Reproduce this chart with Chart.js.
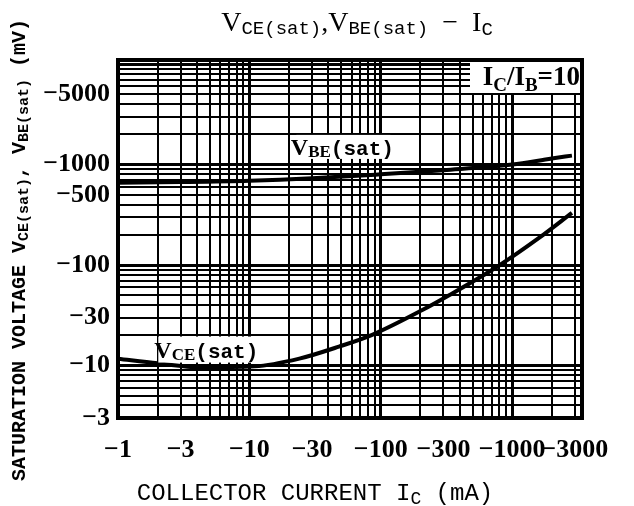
<!DOCTYPE html>
<html>
<head>
<meta charset="utf-8">
<script src="https://cdn.jsdelivr.net/npm/chart.js@4.4.0/dist/chart.umd.min.js"></script>
<style>
  body { margin: 0; background: #fff; }
  #wrap { width: 634px; height: 506px; }
</style>
</head>
<body>
<div id="wrap"><canvas id="satChart" width="634" height="506"></canvas></div>
<script>
// collector current (mA) and saturation voltages (mV)
const vceCurrent = [-1, -2, -4.2, -11, -24, -48, -86, -207, -331, -796, -1600, -2850];
const vceSat = [-11.7, -10.5, -9.6, -9.8, -11.7, -15.4, -20.2, -35.6, -50, -99, -186, -330];
const vbeCurrent = [-1, -3, -10, -30, -100, -300, -1000, -2000, -2850];
const vbeSat = [-660, -670, -690, -730, -800, -880, -1000, -1150, -1228];

// labelled ticks on each axis
const xTickLabels = [-1, -3, -10, -30, -100, -300, -1000, -3000];
const yTickLabels = [-3, -10, -30, -100, -500, -1000, -5000];

const X_MIN = 1, X_MAX = 3400, Y_MIN = 3, Y_MAX = 11000;

// log paper grid: 1..9 of every decade inside the range
function logGrid(min, max) {
  const out = [];
  for (let d = 1; d <= 10000; d *= 10) {
    for (let m = 1; m <= 9; m++) {
      const v = m * d;
      if (v >= min - 1e-9 && v <= max + 1e-9) out.push({ value: v });
    }
  }
  return out;
}
const isDecade = v => Math.abs(Math.log10(v) - Math.round(Math.log10(v))) < 1e-6;
const fmt = v => '\u2212' + v;

function rich(ctx, segs, x, y, align) {
  let w = 0;
  segs.forEach(s => { ctx.font = s.f; s.w = ctx.measureText(s.t).width; w += s.w; });
  let cx = align === 'center' ? x - w / 2 : align === 'right' ? x - w : x;
  ctx.textAlign = 'left';
  ctx.textBaseline = 'alphabetic';
  segs.forEach(s => { ctx.font = s.f; ctx.fillText(s.t, cx, y + (s.dy || 0)); cx += s.w; });
  return w;
}

const SERIF = '"Liberation Serif", serif';
const MONO = '"Liberation Mono", monospace';

const textPlugin = {
  id: 'texts',
  afterDatasetsDraw(chart) {
    const { ctx, scales: { x, y }, chartArea } = chart;
    ctx.save();
    ctx.fillStyle = '#000';

    // VBE(sat) label box
    let px = x.getPixelForValue(51), py = y.getPixelForValue(1500);
    ctx.fillStyle = '#fff';
    ctx.fillRect(px - 46, py - 12, 94, 24);
    ctx.fillStyle = '#000';
    rich(ctx, [
      { t: 'V', f: 'bold 24px ' + SERIF },
      { t: 'BE', f: 'bold 17px ' + SERIF, dy: 2 },
      { t: '(sat)', f: 'bold 21px ' + MONO }
    ], px, py + 8, 'center');

    // VCE(sat) label box
    px = x.getPixelForValue(4.7); py = y.getPixelForValue(14.4);
    ctx.fillStyle = '#fff';
    ctx.fillRect(px - 48, py - 13, 96, 26);
    ctx.fillStyle = '#000';
    rich(ctx, [
      { t: 'V', f: 'bold 24px ' + SERIF },
      { t: 'CE', f: 'bold 17px ' + SERIF, dy: 2 },
      { t: '(sat)', f: 'bold 21px ' + MONO }
    ], px, py + 8, 'center');

    // IC/IB = 10 box in the top right corner
    ctx.fillStyle = '#fff';
    ctx.fillRect(chartArea.right - 112, chartArea.top + 2, 110, 31);
    ctx.fillStyle = '#000';
    rich(ctx, [
      { t: 'I', f: 'bold 27px ' + SERIF },
      { t: 'C', f: 'bold 19px ' + SERIF, dy: 6 },
      { t: '/I', f: 'bold 27px ' + SERIF },
      { t: 'B', f: 'bold 19px ' + SERIF, dy: 6 },
      { t: '=10', f: 'bold 27px ' + SERIF }
    ], chartArea.right - 2, chartArea.top + 25, 'right');
    ctx.restore();
  },
  afterDraw(chart) {
    const { ctx, chartArea: a } = chart;
    ctx.save();
    ctx.strokeStyle = '#000';
    ctx.lineWidth = 4;
    ctx.strokeRect(a.left, a.top, a.right - a.left, a.bottom - a.top);

    ctx.fillStyle = '#000';
    // title
    rich(ctx, [
      { t: 'V', f: '28px ' + SERIF },
      { t: 'CE(sat)', f: '19px ' + MONO, dy: 3 },
      { t: ',V', f: '28px ' + SERIF },
      { t: 'BE(sat)', f: '19px ' + MONO, dy: 3 },
      { t: '  \u2212  I', f: '28px ' + SERIF },
      { t: 'C', f: '19px ' + MONO, dy: 4 }
    ], 357, 31, 'center');

    // x axis title
    rich(ctx, [
      { t: 'COLLECTOR CURRENT I', f: '24px ' + MONO },
      { t: 'C', f: '18px ' + MONO, dy: 4 },
      { t: ' (mA)', f: '24px ' + MONO }
    ], 315, 500, 'center');

    // y axis title, rotated
    ctx.translate(25, 250);
    ctx.rotate(-Math.PI / 2);
    rich(ctx, [
      { t: 'SATURATION VOLTAGE V', f: 'bold 20px ' + MONO },
      { t: 'CE(sat)', f: 'bold 15px ' + MONO, dy: 3 },
      { t: ', V', f: 'bold 20px ' + MONO },
      { t: 'BE(sat)', f: 'bold 15px ' + MONO, dy: 3 },
      { t: ' (mV)', f: 'bold 20px ' + MONO }
    ], 0, 0, 'center');
    ctx.restore();
  }
};

const toXY = (xs, ys) => xs.map((v, i) => ({ x: -v, y: -ys[i] }));

new Chart(document.getElementById('satChart').getContext('2d'), {
  type: 'line',
  data: {
    datasets: [{
      label: 'VCE(sat)',
      data: toXY(vceCurrent, vceSat),
      borderColor: '#000',
      borderWidth: 4,
      pointRadius: 0,
      cubicInterpolationMode: 'monotone'
    }, {
      label: 'VBE(sat)',
      data: toXY(vbeCurrent, vbeSat),
      borderColor: '#000',
      borderWidth: 4,
      pointRadius: 0,
      cubicInterpolationMode: 'monotone'
    }]
  },
  options: {
    responsive: false,
    animation: false,
    layout: { padding: { left: 0, top: 60, right: 52, bottom: 0 } },
    plugins: { legend: { display: false }, tooltip: { enabled: false } },
    scales: {
      x: {
        type: 'logarithmic',
        min: X_MIN, max: X_MAX,
        afterBuildTicks: s => { s.ticks = logGrid(X_MIN, X_MAX); },
        afterFit: s => { s.height = 88; },
        grid: {
          color: '#000',
          lineWidth: c => (c.tick && isDecade(c.tick.value) ? 3 : 2),
          drawTicks: false
        },
        border: { display: false },
        ticks: {
          autoSkip: false, maxRotation: 0, padding: 17, color: '#000',
          font: { family: 'Liberation Serif', weight: 'bold', size: 26 },
          callback: v => (xTickLabels.includes(-v) ? fmt(v) : '')
        }
      },
      y: {
        type: 'logarithmic',
        min: Y_MIN, max: Y_MAX,
        afterBuildTicks: s => { s.ticks = logGrid(Y_MIN, Y_MAX); },
        afterFit: s => { s.width = 118; },
        grid: {
          color: '#000',
          lineWidth: c => (c.tick && isDecade(c.tick.value) ? 3 : 2),
          drawTicks: false
        },
        border: { display: false },
        ticks: {
          autoSkip: false, padding: 8, color: '#000',
          font: { family: 'Liberation Serif', weight: 'bold', size: 26 },
          callback: v => (yTickLabels.includes(-v) ? fmt(v) : '')
        }
      }
    }
  },
  plugins: [textPlugin]
});
</script>
</body>
</html>
